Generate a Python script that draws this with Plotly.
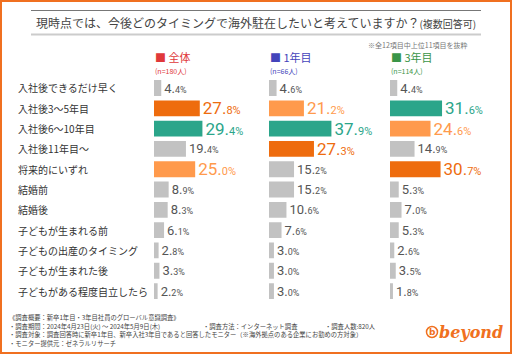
import plotly.graph_objects as go

W, H = 512, 354

categories = ["入社後できるだけ早く", "入社後3～5年目", "入社後6～10年目", "入社後11年目～",
              "将来的にいずれ", "結婚前", "結婚後", "子どもが生まれる前",
              "子どもの出産のタイミング", "子どもが生まれた後", "子どもがある程度自立したら"]
all_vals = [4.4, 27.8, 29.4, 19.4, 25.0, 8.9, 8.3, 6.1, 2.8, 3.3, 2.2]
y1_vals = [4.6, 21.2, 37.9, 27.3, 15.2, 15.2, 10.6, 7.6, 3.0, 3.0, 3.0]
y3_vals = [4.4, 31.6, 24.6, 14.9, 30.7, 5.3, 7.0, 5.3, 2.6, 3.5, 1.8]

series_names = ["全体", "1年目", "3年目"]
series_n = ["(n=180人)", "(n=66人)", "(n=114人)"]
series_colors = ["#E0383A", "#4444BB", "#3A9548"]

TEAL, DORANGE, LORANGE, GRAY = "#2BA58A", "#EE6C0E", "#FF9A4C", "#C2C2C2"
FONT_JP = "Noto Sans CJK JP"
NUMFONT = "Liberation Sans Narrow, Roboto, sans-serif"


def px(x):
    return x / W


def py(y):
    return 1 - y / H


def colors_for(vals):
    order = sorted(range(len(vals)), key=lambda i: -vals[i])
    cols = [GRAY] * len(vals)
    cols[order[0]] = TEAL
    cols[order[1]] = DORANGE
    cols[order[2]] = LORANGE
    return cols


def label_for(v, c):
    s = f"{v:.1f}"
    ip, dp = s.split(".")
    if c == GRAY:
        return (f"<span style='font-size:13px;color:#555'>{ip}.</span>"
                f"<span style='font-size:9px;color:#555'>{dp}%</span>")
    return (f"<span style='font-size:17px;color:{c}'>{ip}.</span>"
            f"<span style='font-size:11px;color:{c}'>{dp}%</span>")


fig = go.Figure()
panel_x = [154, 269, 390]
panel_w = 112
data = [all_vals, y1_vals, y3_vals]

for k, vals in enumerate(data):
    cols = colors_for(vals)
    fig.add_trace(go.Bar(
        x=vals, y=categories, orientation="h",
        marker=dict(color=cols, line=dict(width=0)),
        text=[label_for(v, c) for v, c in zip(vals, cols)],
        textposition="outside", cliponaxis=False, constraintext="none",
        textfont=dict(family=NUMFONT, size=12),
        xaxis="x" if k == 0 else f"x{k+1}",
        yaxis="y" if k == 0 else f"y{k+1}",
        showlegend=False, hoverinfo="skip",
    ))

y_top, y_bot = 77.85, 301.2
layout = dict(
    width=W, height=H, margin=dict(l=0, r=0, t=0, b=0),
    paper_bgcolor="white", plot_bgcolor="white",
    bargap=0.22, showlegend=False,
    font=dict(family=FONT_JP, color="#333"),
)
for k in range(3):
    xa = "xaxis" if k == 0 else f"xaxis{k+1}"
    ya = "yaxis" if k == 0 else f"yaxis{k+1}"
    layout[xa] = dict(domain=[px(panel_x[k]), px(panel_x[k] + panel_w)], range=[0, 68],
                      visible=False, fixedrange=True, anchor="y" if k == 0 else f"y{k+1}")
    layout[ya] = dict(domain=[py(y_bot), py(y_top)], range=[10.5, -0.5], visible=False,
                      type="category", anchor="x" if k == 0 else f"x{k+1}")
fig.update_layout(**layout)

ann = []
# category labels
for c in categories:
    ann.append(dict(x=px(16), xref="paper", y=c, yref="y", text=c, showarrow=False,
                    xanchor="left", yanchor="middle",
                    font=dict(family=FONT_JP, size=10, color="#333")))

# title
ann.append(dict(x=px(256), y=py(22.5), xref="paper", yref="paper", showarrow=False,
                xanchor="center", yanchor="middle",
                text="現時点では、今後どのタイミングで海外駐在したいと考えていますか？"
                     "<span style='font-size:10px'>(複数回答可)</span>",
                font=dict(family=FONT_JP, size=12, color="#444")))
ann.append(dict(x=px(470), y=py(45), xref="paper", yref="paper", showarrow=False,
                xanchor="right", yanchor="middle", text="※全12項目中上位11項目を抜粋",
                font=dict(family=FONT_JP, size=7, color="#777")))

# series headers
for k in range(3):
    ann.append(dict(x=px(panel_x[k] - 1), y=py(57.5), xref="paper", yref="paper",
                    showarrow=False, xanchor="left", yanchor="middle",
                    text=f"■ {series_names[k]}",
                    font=dict(family=FONT_JP, size=11, color=series_colors[k])))
    ann.append(dict(x=px(panel_x[k] - 1), y=py(71), xref="paper", yref="paper",
                    showarrow=False, xanchor="left", yanchor="middle",
                    text=series_n[k],
                    font=dict(family=FONT_JP, size=7, color=series_colors[k])))

# footer
foot_font = dict(family=FONT_JP, size=6.3, color="#444")
footer = [
    (7, 317, "《調査概要：新卒1年目・3年目社員のグローバル意識調査》"),
    (7, 326, "・調査期間：2024年4月23日(火) ～ 2024年5月9日(木)"),
    (201, 326, "・調査方法：インターネット調査"),
    (323, 326, "・調査人数:820人"),
    (7, 334.5, "・調査対象：調査回答時に新卒1年目、新卒入社3年目であると回答したモニター（※海外拠点のある企業にお勤めの方対象）"),
    (7, 343, "・モニター提供元：ゼネラルリサーチ"),
]
for x, y, t in footer:
    ann.append(dict(x=px(x), y=py(y), xref="paper", yref="paper", showarrow=False,
                    xanchor="left", yanchor="middle", text=t, font=foot_font))

# logo
ann.append(dict(x=px(437), y=py(332), xref="paper", yref="paper", showarrow=False,
                xanchor="left", yanchor="middle", text="<b><i>beyond</i></b>",
                font=dict(family="DejaVu Serif", size=16, color="#F07020")))
ann.append(dict(x=px(432), y=py(332), xref="paper", yref="paper", showarrow=False,
                xanchor="center", yanchor="middle", text="<b>b</b>",
                font=dict(family="DejaVu Sans", size=9, color="#F07020")))
fig.update_layout(annotations=ann)

shapes = [
    dict(type="rect", xref="paper", yref="paper", x0=px(1), x1=px(511), y0=py(353), y1=py(1),
         line=dict(color="#F07020", width=2)),
    dict(type="line", xref="paper", yref="paper", x0=px(31), x1=px(481), y0=py(10.5), y1=py(10.5),
         line=dict(color="#777", width=1)),
    dict(type="line", xref="paper", yref="paper", x0=px(31), x1=px(481), y0=py(34.5), y1=py(34.5),
         line=dict(color="#CCC", width=2)),
    dict(type="circle", xref="paper", yref="paper", x0=px(426.5), x1=px(437.5),
         y0=py(337.5), y1=py(326.5), line=dict(color="#F07020", width=1.5)),
]
fig.update_layout(shapes=shapes)

fig.write_html("out.html", config={"displayModeBar": False})
